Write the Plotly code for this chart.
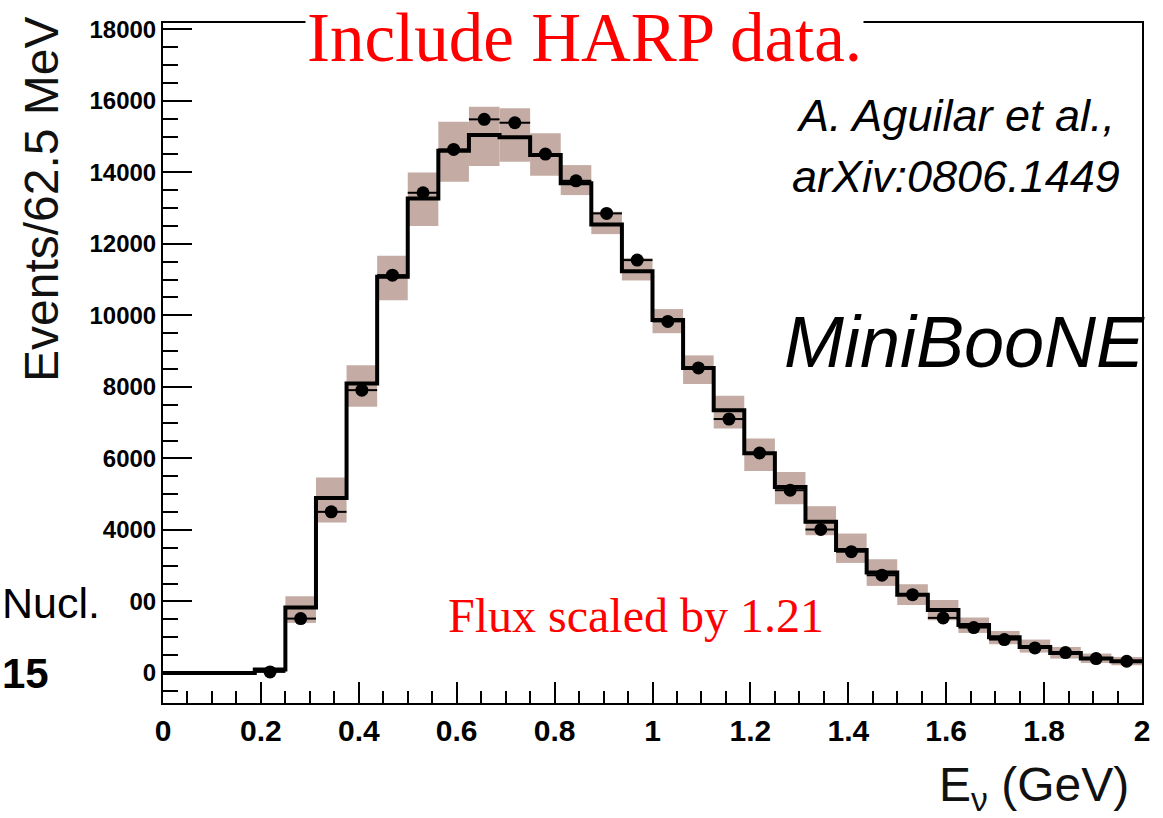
import plotly.graph_objects as go

# ---- data ----
bin_edges = [0.1875, 0.25, 0.3125, 0.375, 0.4375, 0.5, 0.5625, 0.625, 0.6875, 0.75,
             0.8125, 0.875, 0.9375, 1.0, 1.0625, 1.125, 1.1875, 1.25, 1.3125, 1.375,
             1.4375, 1.5, 1.5625, 1.625, 1.6875, 1.75, 1.8125, 1.875, 1.9375, 2.0]

mc_hist = [100, 1830, 4895, 8095, 11077, 13270, 14602, 15041, 14976, 14481,
           13690, 12542, 11230, 9870, 8530, 7348, 6140, 5200, 4230, 3440,
           2810, 2190, 1760, 1340, 1000, 727, 559, 403, 327]

data_pts = [30, 1520, 4505, 7908, 11124, 13427, 14640, 15480, 15385, 14509,
            13762, 12850, 11544, 9830, 8530, 7100, 6150, 5110, 4011, 3390,
            2733, 2190, 1540, 1270, 934, 699, 571, 403, 327]

band_lo = [90, 1400, 4207, 7441, 10425, 12495, 13734, 14173, 14294, 13902,
           13362, 12271, 10975, 9500, 8080, 6836, 5650, 4719, 3852, 3077,
           2434, 1900, 1474, 1119, 803, 571, 403, 280, 215]

band_hi = [110, 2145, 5465, 8607, 11664, 13997, 15413, 15832, 15787, 15088,
           14201, 12895, 11600, 10175, 8880, 7748, 6556, 5622, 4663, 3899,
           3180, 2481, 2040, 1550, 1175, 934, 727, 543, 448]

y_tickvals = [0, 2000, 4000, 6000, 8000, 10000, 12000, 14000, 16000, 18000]
y_ticktext = ["0", "00", "4000", "6000", "8000", "10000", "12000", "14000", "16000", "18000"]
x_tickvals = [0, 0.2, 0.4, 0.6, 0.8, 1.0, 1.2, 1.4, 1.6, 1.8, 2.0]
x_ticktext = ["0", "0.2", "0.4", "0.6", "0.8", "1", "1.2", "1.4", "1.6", "1.8", "2"]

# ---- derived ----
centers = [(a + b) / 2 for a, b in zip(bin_edges[:-1], bin_edges[1:])]
widths = [b - a for a, b in zip(bin_edges[:-1], bin_edges[1:])]
halfw = [w / 2 for w in widths]

BAND = "#c4aca4"

fig = go.Figure()

fig.add_trace(go.Bar(
    x=centers, y=[h - l for h, l in zip(band_hi, band_lo)], base=band_lo,
    width=widths, marker=dict(color=BAND, line=dict(width=0)),
    showlegend=False, hoverinfo="skip"))

fig.add_trace(go.Scatter(
    x=[0] + bin_edges, y=[0] + mc_hist + [mc_hist[-1]],
    mode="lines", line=dict(color="black", width=4, shape="hv"),
    showlegend=False))

fig.add_trace(go.Scatter(
    x=centers, y=data_pts, mode="markers",
    marker=dict(color="black", size=13),
    error_x=dict(type="data", array=halfw, color="black", thickness=2, width=0),
    showlegend=False))

# ---- layout geometry (pixels) ----
W, H = 1163, 818
L, R, T, B = 163, 1142, 23, 703


def px(xp):
    return (xp - L) / (R - L)


def py(yp):
    return (B - yp) / (B - T)


fig.update_layout(
    width=W, height=H, autosize=False,
    margin=dict(l=L, r=W - R, t=T, b=H - B, pad=0),
    paper_bgcolor="white", plot_bgcolor="white",
    showlegend=False,
    xaxis=dict(
        range=[0, 2.0], showgrid=False, zeroline=False,
        showline=True, linecolor="black", linewidth=2, mirror=True,
        ticks="inside", ticklen=21, tickwidth=2, tickcolor="black",
        tickmode="array", tickvals=x_tickvals, ticktext=x_ticktext,
        tickfont=dict(family="Liberation Sans", size=30, color="black", weight="bold"),
        minor=dict(ticks="inside", ticklen=12, tickwidth=2, tickcolor="black",
                   dtick=0.05, tick0=0, showgrid=False),
    ),
    yaxis=dict(
        range=[-840, 18174], showgrid=False, zeroline=False,
        showline=True, linecolor="black", linewidth=2, mirror=True,
        ticks="inside", ticklen=29, tickwidth=2, tickcolor="black",
        tickmode="array", tickvals=y_tickvals, ticktext=y_ticktext,
        tickfont=dict(family="Liberation Sans", size=24, color="black", weight="bold"),
        minor=dict(ticks="inside", ticklen=15, tickwidth=2, tickcolor="black",
                   dtick=500, tick0=0, showgrid=False),
    ),
)

ann = []
ann.append(dict(text="Events/62.5 MeV", textangle=-90, x=px(42), y=py(199),
                xref="paper", yref="paper", showarrow=False,
                xanchor="center", yanchor="middle",
                font=dict(family="Liberation Sans", size=48, color="#111")))
ann.append(dict(text="E<sub>ν</sub> (GeV)", x=px(1131), y=py(788),
                xref="paper", yref="paper", showarrow=False,
                xanchor="right", yanchor="middle",
                font=dict(family="Liberation Sans", size=48, color="#111")))
ann.append(dict(text="Include HARP data.", x=px(584), y=py(38),
                xref="paper", yref="paper", showarrow=False,
                xanchor="center", yanchor="middle", bgcolor="white",
                font=dict(family="Liberation Serif", size=69, color="#ff0000")))
ann.append(dict(text="<i>A. Aguilar et al.,</i>", x=px(955), y=py(116),
                xref="paper", yref="paper", showarrow=False,
                xanchor="center", yanchor="middle",
                font=dict(family="Liberation Sans", size=45, color="black")))
ann.append(dict(text="<i>arXiv:0806.1449</i>", x=px(956), y=py(177),
                xref="paper", yref="paper", showarrow=False,
                xanchor="center", yanchor="middle",
                font=dict(family="Liberation Sans", size=45, color="black")))
ann.append(dict(text="<i>MiniBooNE</i>", x=px(964), y=py(342),
                xref="paper", yref="paper", showarrow=False,
                xanchor="center", yanchor="middle",
                font=dict(family="Liberation Sans", size=72, color="black")))
ann.append(dict(text="Flux scaled by 1.21", x=px(636), y=py(615),
                xref="paper", yref="paper", showarrow=False,
                xanchor="center", yanchor="middle",
                font=dict(family="Liberation Serif", size=48, color="#ff0000")))
ann.append(dict(text="Nucl.", x=px(0), y=py(603),
                xref="paper", yref="paper", showarrow=False,
                xanchor="left", yanchor="middle",
                font=dict(family="Liberation Sans", size=43, color="black")))
ann.append(dict(text="<b>15</b>", x=px(0), y=py(673),
                xref="paper", yref="paper", showarrow=False,
                xanchor="left", yanchor="middle",
                font=dict(family="Liberation Sans", size=42, color="black")))
fig.update_layout(annotations=ann)

fig.write_html("out.html")
